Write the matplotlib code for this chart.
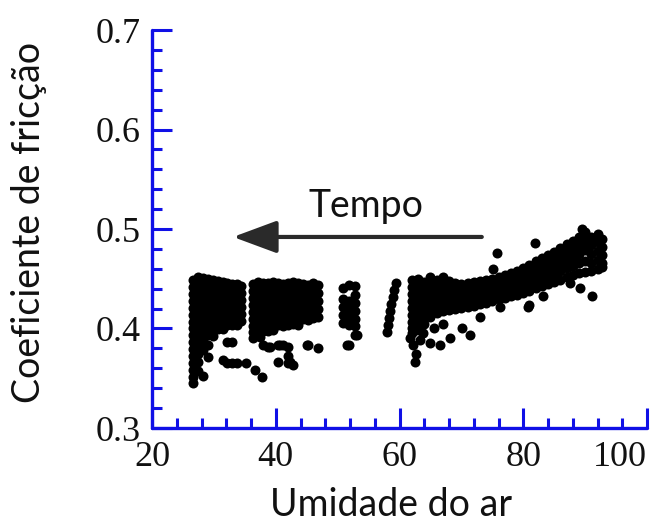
import numpy as np
import matplotlib
matplotlib.use("Agg")
import matplotlib.pyplot as plt
from matplotlib.ticker import MultipleLocator
from matplotlib.patches import FancyArrowPatch, ArrowStyle

# friction values are written in thousandths (449 -> 0.449)
# block at low humidity, left part
block1 = [
    (26.6, [449, 442, 435, 428, 421, 414, 407, 400, 393, 386, 379, 372, 365, 358, 351, 345]),
    (27.4, [452, 445, 438, 431, 424, 417, 410, 403, 396, 389, 382, 374, 366, 357]),
    (28.2, [451, 444, 437, 430, 423, 416, 409, 402, 395, 387, 378, 352]),
    (29.0, [450, 443, 436, 429, 422, 415, 408, 401, 393, 383, 371]),
    (29.8, [449, 442, 435, 428, 421, 414, 407, 400, 392]),
    (30.6, [448, 441, 434, 427, 420, 413, 406, 399]),
    (31.4, [447, 440, 433, 426, 419, 412, 405, 399, 368]),
    (32.2, [446, 439, 432, 425, 418, 411, 404, 386, 365]),
    (33.0, [445, 438, 431, 424, 417, 410, 404, 386, 365]),
    (33.8, [445, 438, 431, 424, 417, 410, 404, 365]),
    (34.4, [443, 436, 429, 422, 415, 408]),
]
block2 = [
    (36.4, [445, 438, 431, 424, 417, 410, 403, 396, 390]),
    (37.2, [447, 440, 433, 426, 419, 412, 405, 398]),
    (38.0, [446, 439, 432, 425, 418, 411, 404, 397, 383]),
    (38.8, [446, 439, 432, 425, 418, 411, 404, 397, 381]),
    (39.6, [447, 440, 433, 426, 419, 412, 405, 398]),
    (40.4, [446, 439, 432, 425, 418, 411, 404, 383, 366]),
    (41.2, [445, 438, 431, 424, 417, 410, 403, 383]),
    (42.0, [446, 439, 432, 425, 418, 411, 404, 381, 372, 365]),
    (42.8, [447, 440, 433, 426, 419, 412, 405, 363]),
    (43.6, [446, 439, 432, 425, 418, 411, 404]),
    (44.4, [445, 438, 431, 424, 417, 410]),
    (45.2, [444, 437, 430, 423, 416, 409, 383]),
    (46.0, [446, 439, 432, 425, 418, 411]),
    (46.8, [444, 436, 428, 420, 412, 380]),
]
block3 = [
    (50.8, [441, 430, 422, 414, 406]),
    (51.8, [444, 428, 420, 412, 404, 383]),
    (52.8, [443, 434, 426, 418, 410, 403, 393]),
]
strand_x = [59.4, 59.1, 58.9, 58.7, 58.5, 58.3, 58.1, 58.0]
strand_y = [446, 439, 432, 425, 418, 411, 404, 396]

# main band at high humidity
band = [
    (62, [449, 442, 435, 428, 421, 414, 407, 400, 395]),
    (63, [450, 443, 436, 429, 422, 415, 408, 401, 398]),
    (64, [447, 440, 433, 426, 419, 412, 405]),
    (65, [452, 445, 438, 431, 424, 417, 412]),
    (66, [449, 442, 435, 428, 421, 416]),
    (67, [452, 445, 438, 431, 424, 418]),
    (68, [448, 441, 434, 427, 419]),
    (69, [446, 439, 432, 426, 420]),
    (70, [445, 438, 432, 427, 421]),
    (71, [446, 440, 434, 428, 422]),
    (72, [447, 441, 435, 429, 423]),
    (73, [448, 442, 436, 430, 425]),
    (74, [449, 443, 437, 432, 426]),
    (75, [450, 444, 439, 433, 428]),
    (76, [452, 446, 441, 435, 430]),
    (77, [454, 448, 442, 437, 431]),
    (78, [456, 450, 444, 439, 433]),
    (79, [458, 452, 446, 440, 434]),
    (80, [461, 455, 449, 443, 436]),
    (81, [464, 458, 451, 445, 438]),
    (82, [468, 461, 454, 447, 441]),
    (83, [471, 464, 457, 450, 443]),
    (84, [474, 467, 460, 452, 445]),
    (85, [477, 470, 462, 455, 447]),
    (86, [481, 474, 466, 458, 449]),
    (87, [485, 477, 469, 461, 452]),
    (88, [488, 480, 472, 463, 454]),
    (89, [492, 484, 475, 466, 456]),
    (90, [497, 488, 479, 468, 457]),
    (91, [492, 484, 475, 466, 458]),
    (92, [495, 487, 478, 469, 460]),
    (92.7, [490, 482, 474, 466, 462]),
]

# scattered single points
loose_x = [35.2, 36.6, 37.8, 37.4, 39.1, 40.7, 42.3, 45.0, 53.1, 51.5,
           61.7, 62.2, 63.3, 64.9, 66.5, 68.1, 62.5, 62.7, 63.8, 65.5, 67.0,
           70.1, 71.4, 73.0, 76.2, 80.7, 81.0, 83.2, 87.6, 89.1, 91.1,
           75.7, 75.1, 81.9, 89.5]
loose_y = [365, 358, 351, 391, 381, 383, 366, 383, 393, 383,
           390, 383, 388, 385, 383, 390, 366, 374, 395, 400, 405,
           400, 393, 412, 422, 422, 424, 433, 446, 441, 433,
           476, 460, 486, 500]

x_ticks = [20, 40, 60, 80, 100]
y_ticks = [0.3, 0.4, 0.5, 0.6, 0.7]

xs, ys = [], []
for group in (block1, block2, block3, band):
    for hx, col in group:
        xs += [hx] * len(col)
        ys += col
xs += strand_x + loose_x
ys += strand_y + loose_y
xs = np.array(xs)
ys = np.array(ys) / 1000.0

blue = "#1010e6"
label_font = ["Lato", "DejaVu Sans"]

fig = plt.figure(figsize=(6.61, 5.26), dpi=100)
ax = fig.add_axes([152 / 661, 1 - 428 / 526, 495 / 661, 398 / 526])

ax.scatter(xs, ys, s=52, c="black", linewidths=0, zorder=3)

ax.set_xticks(x_ticks)
ax.set_xticklabels([str(v) for v in x_ticks])
ax.set_yticks(y_ticks)
ax.set_yticklabels([f"{v:.1f}" for v in y_ticks])
ax.xaxis.set_minor_locator(MultipleLocator(4))
ax.yaxis.set_minor_locator(MultipleLocator(0.02))
ax.set_xlim(20, 100)
ax.set_ylim(0.3, 0.7)

for side in ("top", "right"):
    ax.spines[side].set_visible(False)
for side in ("left", "bottom"):
    ax.spines[side].set_color(blue)
    ax.spines[side].set_linewidth(2.4)
    ax.spines[side].set_capstyle("round")

ax.tick_params(which="both", direction="in", color=blue, width=2.2)
ax.tick_params(which="major", length=14.5)
ax.tick_params(which="minor", length=7.5)
ax.tick_params(axis="x", which="major", pad=9)
ax.tick_params(axis="y", which="major", pad=8)
for lab in ax.get_xticklabels() + ax.get_yticklabels():
    lab.set_fontfamily("Liberation Serif")
    lab.set_fontsize(26)
    lab.set_color("#111111")
# the last x label sits flush with the end of the axis
ax.get_xticklabels()[-1].set_horizontalalignment("right")

fig.text(391 / 661, 1 - 505 / 526, "Umidade do ar", ha="center", va="center",
         fontsize=27, family=label_font, color="#111111")
fig.text(29 / 661, 1 - 222 / 526, "Coeficiente de fricção", ha="center",
         va="center", rotation=90, fontsize=27, family=label_font, color="#111111")

ax.text(54.6, 0.512, "Tempo", ha="center", va="baseline", fontsize=27,
        family=label_font, color="#111111")
arrow = FancyArrowPatch((73.3, 0.492), (33.1, 0.492), transform=ax.transData,
                        arrowstyle=ArrowStyle("-|>", head_length=27, head_width=10),
                        mutation_scale=1, linewidth=3, color="#2a2a2a",
                        shrinkA=0, shrinkB=0)
ax.add_patch(arrow)

fig.savefig("out.png", dpi=100)
